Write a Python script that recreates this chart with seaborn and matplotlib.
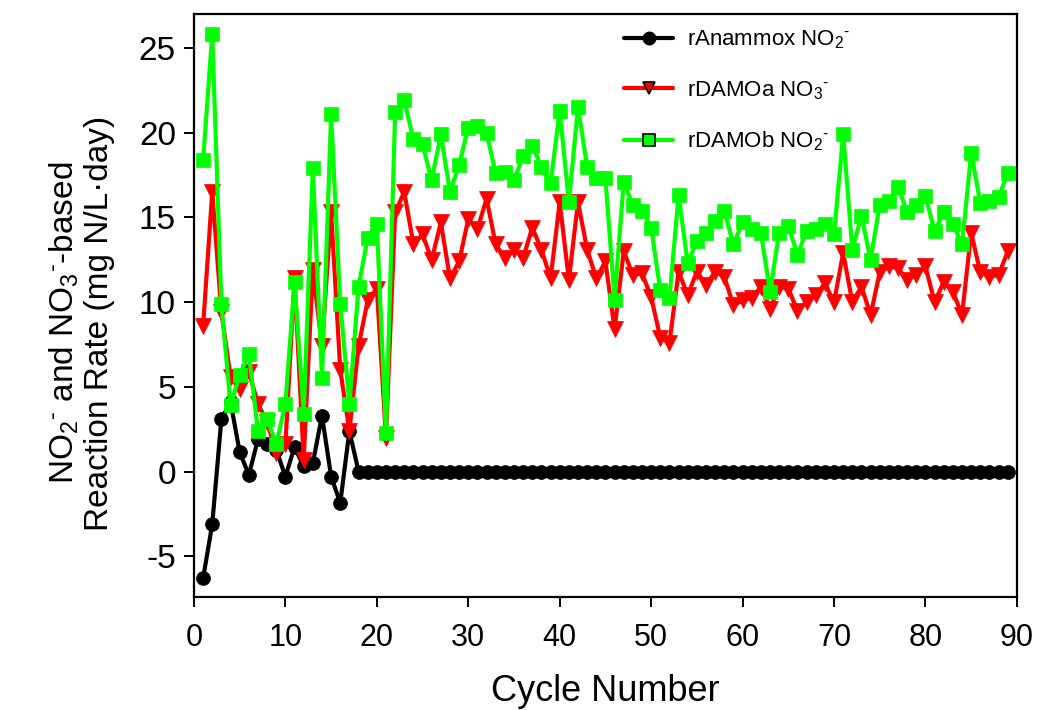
import matplotlib
matplotlib.use("Agg")
import matplotlib.pyplot as plt
from matplotlib.lines import Line2D
import pandas as pd
import seaborn as sns

# Cycle numbers of the reactor run
cycles = list(range(1, 90))

# Anammox NO2- based rate (mg N/L·day)
anammox_no2 = [
    -6.3, -3.1, 3.1, 4.1, 1.15, -0.2, 1.9, 1.6, 1.3, -0.3,
    1.45, 0.3, 0.5, 3.3, -0.3, -1.85, 2.4, 0.0, 0.0, 0.0,
    0.0, 0.0, 0.0, 0.0, 0.0, 0.0, 0.0, 0.0, 0.0, 0.0,
    0.0, 0.0, 0.0, 0.0, 0.0, 0.0, 0.0, 0.0, 0.0, 0.0,
    0.0, 0.0, 0.0, 0.0, 0.0, 0.0, 0.0, 0.0, 0.0, 0.0,
    0.0, 0.0, 0.0, 0.0, 0.0, 0.0, 0.0, 0.0, 0.0, 0.0,
    0.0, 0.0, 0.0, 0.0, 0.0, 0.0, 0.0, 0.0, 0.0, 0.0,
    0.0, 0.0, 0.0, 0.0, 0.0, 0.0, 0.0, 0.0, 0.0, 0.0,
    0.0, 0.0, 0.0, 0.0, 0.0, 0.0, 0.0, 0.0, 0.0,
]

# DAMO archaea NO3- based rate
damo_a_no3 = [
    8.6, 16.5, 9.4, 5.6, 4.9, 5.9, 4.0, 2.9, 1.1, 1.6,
    11.4, 0.7, 11.9, 7.4, 15.3, 6.0, 2.4, 7.4, 10.1, 10.8,
    2.0, 15.3, 16.5, 13.4, 14.0, 12.5, 14.7, 11.4, 12.4, 14.9,
    14.3, 16.1, 13.4, 12.6, 13.1, 12.6, 14.4, 13.1, 11.4, 15.9,
    11.3, 15.9, 13.1, 11.4, 12.4, 8.4, 13.0, 11.6, 11.7, 10.3,
    7.9, 7.6, 11.8, 10.4, 11.8, 11.0, 11.8, 11.5, 9.8, 10.1,
    10.25, 10.9, 9.6, 10.9, 10.8, 9.5, 10.0, 10.4, 11.1, 10.0,
    12.9, 10.0, 10.9, 9.25, 11.75, 12.1, 12.0, 11.3, 11.6, 12.1,
    10.0, 11.2, 10.6, 9.25, 14.1, 11.75, 11.5, 11.6, 13.0,
]

# DAMO bacteria NO2- based rate
damo_b_no2 = [
    18.4, 25.8, 9.9, 3.9, 5.7, 6.95, 2.4, 3.1, 1.6, 4.0,
    11.2, 3.4, 17.9, 5.5, 21.1, 9.9, 4.0, 10.9, 13.8, 14.6,
    2.3, 21.2, 21.9, 19.6, 19.3, 17.2, 19.9, 16.5, 18.1, 20.3,
    20.4, 20.0, 17.6, 17.7, 17.2, 18.6, 19.2, 18.0, 17.0, 21.3,
    15.9, 21.5, 18.0, 17.3, 17.3, 10.15, 17.1, 15.7, 15.4, 14.4,
    10.7, 10.25, 16.3, 12.3, 13.6, 14.1, 14.8, 15.4, 13.4, 14.7,
    14.3, 14.1, 10.6, 14.1, 14.5, 12.8, 14.2, 14.3, 14.6, 14.0,
    19.9, 13.1, 15.1, 12.5, 15.75, 15.95, 16.8, 15.3, 15.7, 16.25,
    14.2, 15.3, 14.6, 13.4, 18.8, 15.85, 15.95, 16.2, 17.6,
]

series_labels = [
    r"rAnammox NO$_2$$^{\text{-}}$",
    r"rDAMOa NO$_3$$^{\text{-}}$",
    r"rDAMOb NO$_2$$^{\text{-}}$",
]
x_ticks = [0, 10, 20, 30, 40, 50, 60, 70, 80, 90]
y_ticks = [-5, 0, 5, 10, 15, 20, 25]

sns.set_theme(style="ticks")
plt.rcParams["font.family"] = ["Liberation Sans", "DejaVu Sans"]
plt.rcParams["mathtext.fontset"] = "custom"
plt.rcParams["mathtext.rm"] = "Liberation Sans"
plt.rcParams["mathtext.it"] = "Liberation Sans:italic"
plt.rcParams["mathtext.default"] = "regular"
plt.rcParams["axes.unicode_minus"] = False
plt.rcParams["text.color"] = "black"
plt.rcParams["axes.labelcolor"] = "black"
plt.rcParams["xtick.color"] = "black"
plt.rcParams["ytick.color"] = "black"

df = pd.DataFrame({
    "cycle": cycles,
    "anammox": anammox_no2,
    "damo_a": damo_a_no3,
    "damo_b": damo_b_no2,
})

fig = plt.figure(figsize=(10.4, 7.1), dpi=100)
ax = fig.add_axes([0.1865, 0.1592, 0.7913, 0.8211])

styles = [
    ("anammox", "#000000", "o", 10),
    ("damo_a", "#ff0000", "v", 11),
    ("damo_b", "#00ff00", "s", 10),
]
for col, colour, mk, ms in styles:
    sns.lineplot(data=df, x="cycle", y=col, ax=ax, color=colour,
                 marker=mk, markersize=ms, markeredgecolor=colour,
                 markeredgewidth=0.5, linewidth=3.0, errorbar=None,
                 legend=False)

ax.set_xlim(0, 90)
ax.set_ylim(-7.4, 27.0)
ax.set_xticks(x_ticks)
ax.set_yticks(y_ticks)
ax.tick_params(axis="both", which="major", direction="out", length=7,
               width=1.4, colors="black", top=False, right=False)
ax.tick_params(axis="y", labelsize=24, pad=6)
ax.tick_params(axis="x", labelsize=22, pad=12)
for sp in ax.spines.values():
    sp.set_visible(True)
    sp.set_color("black")
    sp.set_linewidth(1.6)

ax.set_xlabel("Cycle Number", fontsize=26, labelpad=15)
ax.set_ylabel("")
fig.text(0.078, 0.545,
         "NO$_2$$^{\\text{-}}$ and NO$_3$$^{\\text{-}}$-based\n"
         "Reaction Rate (mg N/L\u00b7day)",
         rotation=90, ha="center", va="center", multialignment="center",
         fontsize=24, linespacing=1.15)

handles = [
    Line2D([], [], color="#000000", lw=3.0, marker="o", ms=9,
           mfc="#000000", mec="#000000"),
    Line2D([], [], color="#ff0000", lw=3.0, marker="v", ms=9,
           mfc="#ff0000", mec="black", mew=1.2),
    Line2D([], [], color="#00ff00", lw=3.0, marker="s", ms=9,
           mfc="#00ff00", mec="black", mew=1.2),
]
ax.legend(handles, series_labels, loc="upper left",
          bbox_to_anchor=(0.515, 0.986), frameon=False, fontsize=16,
          handlelength=2.2, handletextpad=0.6, labelspacing=1.25,
          borderaxespad=0, borderpad=0.3)

fig.savefig("out.png", dpi=100)
